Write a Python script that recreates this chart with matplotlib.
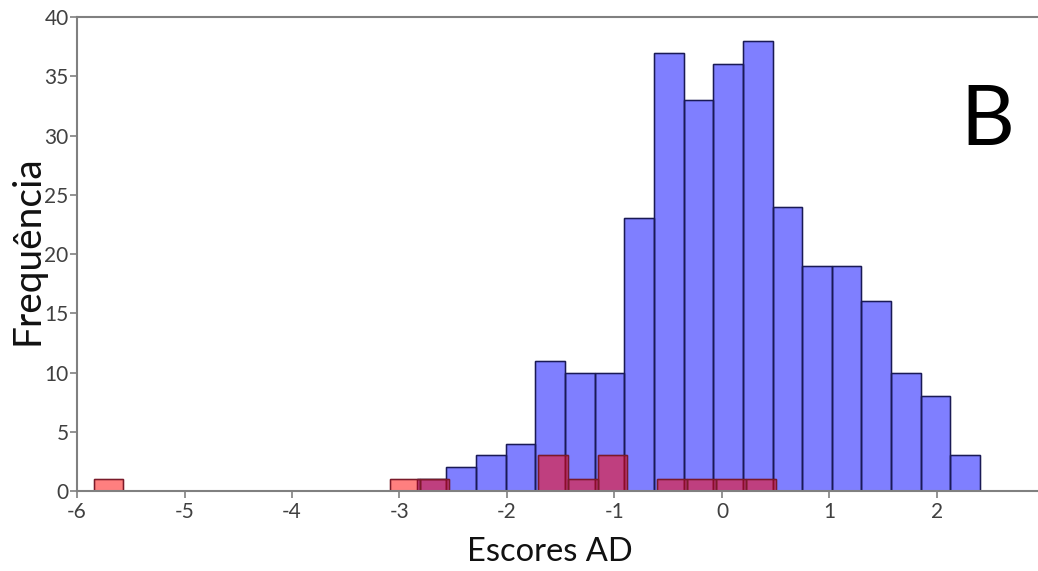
import numpy as np
import matplotlib
matplotlib.use('Agg')
import matplotlib.pyplot as plt

plt.rcParams['font.family'] = ['Lato', 'DejaVu Sans']

# histogram data (equal bin width for both groups)
bin_width = 0.2758
blue_start = -2.839
blue_counts = [1, 2, 3, 4, 11, 10, 10, 23, 37, 33, 36, 38, 24, 19, 19, 16, 10, 8, 3]
red_start = -5.845
red_counts = [1, 0, 0, 0, 0, 0, 0, 0, 0, 0, 1, 1, 0, 0, 0, 3, 1, 3, 0, 1, 1, 1, 1]

x_ticks = [-6, -5, -4, -3, -2, -1, 0, 1, 2]
y_ticks = [0, 5, 10, 15, 20, 25, 30, 35, 40]


def bin_lefts(start, counts):
    # left edge of every bin
    return start + bin_width * np.arange(len(counts))


fig = plt.figure(figsize=(10.38, 5.71), dpi=100)
ax = fig.add_axes([0.0742, 0.1401, 0.9258, 0.8301])

ax.bar(bin_lefts(blue_start, blue_counts), blue_counts, width=bin_width, align='edge',
       color='#0000ff', alpha=0.5, edgecolor='#10104a', linewidth=1.0)
ax.bar(bin_lefts(blue_start, blue_counts), blue_counts, width=bin_width, align='edge',
       fill=False, edgecolor='#1a1a55', linewidth=1.0)

red_x = bin_lefts(red_start, red_counts)
keep = np.array(red_counts) > 0
ax.bar(red_x[keep], np.array(red_counts)[keep], width=bin_width, align='edge',
       color='#ff0000', alpha=0.5, edgecolor='#600000', linewidth=1.0)
ax.bar(red_x[keep], np.array(red_counts)[keep], width=bin_width, align='edge',
       fill=False, edgecolor='#7a1a2a', linewidth=1.0)

ax.set_xlim(-6, 2.94)
ax.set_ylim(0, 40)
ax.set_xticks(x_ticks)
ax.set_yticks(y_ticks)
ax.set_xticklabels([str(t) for t in x_ticks])
ax.set_yticklabels([str(t) for t in y_ticks])

for side in ['left', 'bottom', 'top']:
    ax.spines[side].set_color('#808080')
    ax.spines[side].set_linewidth(1.5)
ax.spines['right'].set_visible(False)
ax.tick_params(axis='both', colors='#808080', labelcolor='#404040', labelsize=15,
               length=5, width=1.2, direction='out')
ax.tick_params(axis='x', pad=3)
ax.tick_params(axis='y', pad=1)

ax.set_xlabel('Escores AD', fontsize=23.5, color='#111111')
ax.xaxis.set_label_coords(0.492, -0.097)
ax.set_ylabel('Frequência', fontsize=28, color='#111111')
ax.yaxis.set_label_coords(-0.033, 0.508)

fig.text(0.951, 0.746, 'B', fontsize=60, ha='center', va='baseline', color='#000000')

fig.savefig('out.png', dpi=100)
